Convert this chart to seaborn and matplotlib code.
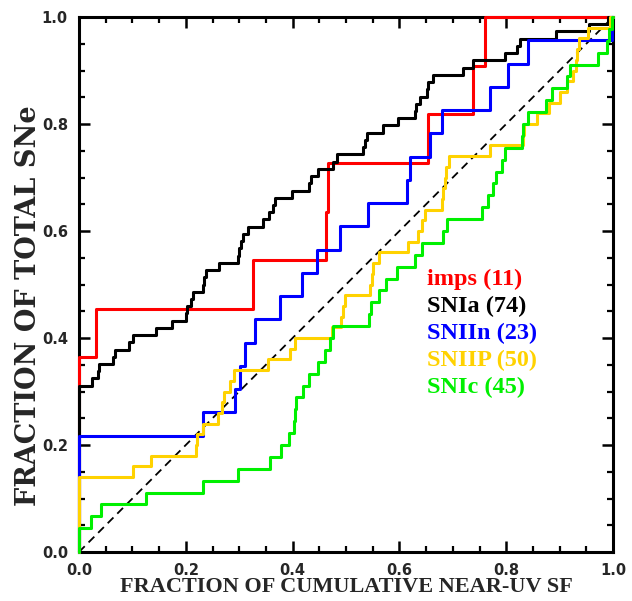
import numpy as np
import pandas as pd
import matplotlib
matplotlib.use("Agg")
import matplotlib.pyplot as plt
import seaborn as sns
from matplotlib.ticker import MultipleLocator, FormatStrFormatter

# fraction of cumulative near-UV SF at the position of each SN
imps = [0, 0, 0, 0, 0.031, 0.325, 0.463, 0.467, 0.654, 0.738, 0.760]

snia = [0] * 23 + [
    0.024, 0.036, 0.038, 0.064, 0.067, 0.094, 0.102, 0.144, 0.175, 0.200,
    0.203, 0.210, 0.213, 0.232, 0.234, 0.237, 0.263, 0.298, 0.300, 0.303,
    0.307, 0.317, 0.344, 0.355, 0.364, 0.367, 0.398, 0.431, 0.434, 0.448,
    0.476, 0.483, 0.532, 0.536, 0.539, 0.570, 0.598, 0.629, 0.632, 0.639,
    0.651, 0.654, 0.663, 0.720, 0.738, 0.798, 0.820, 0.825, 0.894, 0.955,
    0.990]

sniin = [0] * 5 + [
    0.233, 0.293, 0.301, 0.311, 0.330, 0.376, 0.418, 0.445, 0.488, 0.542,
    0.614, 0.620, 0.657, 0.679, 0.770, 0.804, 0.841, 0.998]

sniip = [0] * 7 + [
    0.101, 0.134, 0.219, 0.221, 0.232, 0.260, 0.268, 0.271, 0.282, 0.291,
    0.353, 0.395, 0.404, 0.473, 0.491, 0.494, 0.498, 0.545, 0.548, 0.551,
    0.561, 0.617, 0.635, 0.642, 0.648, 0.679, 0.682, 0.685, 0.688, 0.692,
    0.770, 0.831, 0.834, 0.857, 0.880, 0.900, 0.913, 0.925, 0.930, 0.933,
    0.936, 0.953, 0.994]

snic = [0] * 2 + [
    0.022, 0.042, 0.126, 0.232, 0.298, 0.357, 0.378, 0.393, 0.403, 0.405,
    0.407, 0.419, 0.430, 0.448, 0.461, 0.470, 0.476, 0.543, 0.546, 0.561,
    0.575, 0.595, 0.629, 0.642, 0.682, 0.689, 0.755, 0.765, 0.775, 0.780,
    0.792, 0.798, 0.829, 0.832, 0.840, 0.875, 0.886, 0.913, 0.919, 0.972,
    0.989, 0.992, 0.998]

names = ['imps', 'SNIa', 'SNIIn', 'SNIIP', 'SNIc']
samples = [imps, snia, sniin, sniip, snic]
colors = ['#FF0000', '#000000', '#0000FF', '#FFD200', '#00F000']

# cumulative fraction for each type, running from the left to the right edge
frames = []
for name, vals in zip(names, samples):
    v = np.sort(np.asarray(vals, dtype=float))
    n = len(v)
    frames.append(pd.DataFrame({
        'frac_sf': np.r_[0.0, v, 1.0],
        'frac_sne': np.r_[0.0, np.arange(1, n + 1) / n, 1.0],
        'label': f'{name} ({n})',
    }))
df = pd.concat(frames, ignore_index=True)
labels = list(df['label'].unique())

sns.set_style('white')
plt.rcParams['font.family'] = ['DejaVu Sans']

fig = plt.figure(figsize=(6.32, 6.01), dpi=100)
ax = fig.add_axes([79 / 632, 49 / 601, 534 / 632, 535 / 601])

ax.axline((0, 0), (1, 1), color='black', lw=1.3, dashes=(4.5, 3), zorder=1)

sns.lineplot(data=df, x='frac_sf', y='frac_sne', hue='label',
             palette=dict(zip(labels, colors)), hue_order=labels,
             estimator=None, sort=False, drawstyle='steps-post',
             lw=2.2, legend=False, ax=ax, clip_on=False, zorder=3)

ax.set_xlim(0, 1)
ax.set_ylim(0, 1)

for s in ax.spines.values():
    s.set_linewidth(2.2)
    s.set_color('black')

for axis in (ax.xaxis, ax.yaxis):
    axis.set_major_locator(MultipleLocator(0.2))
    axis.set_minor_locator(MultipleLocator(0.05))
    axis.set_major_formatter(FormatStrFormatter('%.1f'))
ax.tick_params(which='both', direction='in', top=True, right=True,
               bottom=True, left=True, color='black')
ax.tick_params(which='major', length=8, width=1.8, pad=8, labelsize=10.5)
ax.tick_params(which='minor', length=4.3, width=1.6)
for lab in ax.get_xticklabels() + ax.get_yticklabels():
    lab.set_fontweight('bold')

serif = ['Liberation Serif', 'DejaVu Serif']
ax.set_xlabel('FRACTION OF CUMULATIVE NEAR-UV SF', family=serif,
              fontweight='bold', fontsize=16)
ax.set_ylabel('FRACTION OF TOTAL SNe', family=['DejaVu Serif'],
              fontweight='bold', fontsize=19.5)
ax.xaxis.set_label_coords(0.5, -0.047)
ax.yaxis.set_label_coords(-0.07, 0.46)

# legend as coloured text
for i, (lab, c) in enumerate(zip(labels, colors)):
    ax.text(0.652, 0.499 - i * 0.0505, lab, color=c, family=serif,
            fontweight='bold', fontsize=17.5, va='baseline', ha='left',
            transform=ax.transAxes)

fig.savefig('out.png', dpi=100)
